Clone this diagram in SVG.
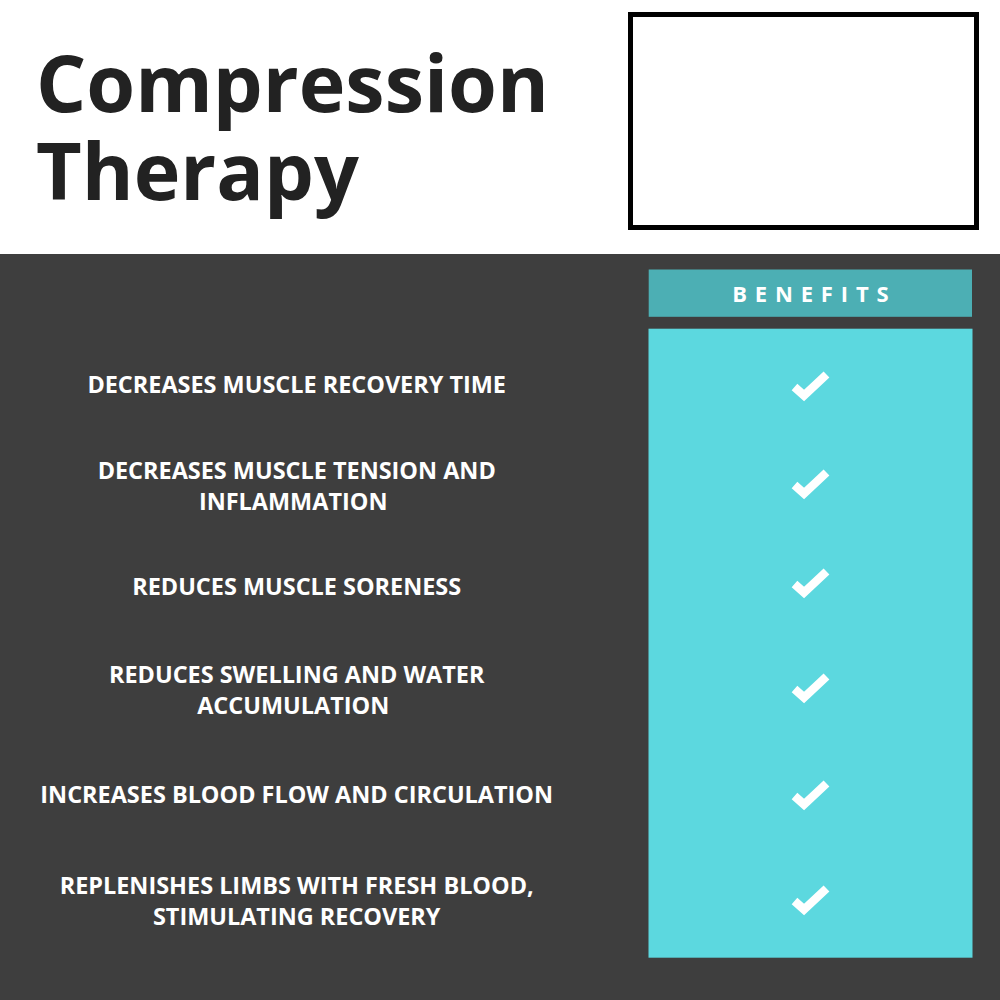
<svg xmlns="http://www.w3.org/2000/svg" width="1000" height="1000" viewBox="0 0 1000 1000">
<style>
text{font-family:"Open Sans","Noto Sans","DejaVu Sans",sans-serif}
.l{font-size:23.45px;font-weight:700;fill:#fff;text-anchor:middle}
.t{font-size:79px;font-weight:700;fill:#222}
.c{fill:none;stroke:#fff;stroke-width:8.500}
</style>
<defs><path id="ck" class="c" d="M-16 1L-6.500 9.500L16-11.500"/></defs>
<rect width="1000" height="1000" fill="#fff"/>
<rect y="254" width="1000" height="746" fill="#3e3e3e"/>
<g id="title"><text class="t" x="36" y="112">Compression</text><text class="t" x="36" y="200">Therapy</text></g>
<g id="box"><rect x="630.500" y="14.500" width="346" height="213" fill="#fff" stroke="#000" stroke-width="5"/></g>
<g id="header"><rect x="648.700" y="269.500" width="323.300" height="47.300" fill="#4cafb4"/><text x="814.300" y="302" text-anchor="middle" font-size="22" font-weight="700" fill="#fff" letter-spacing="7.850">BENEFITS</text></g>
<g id="panel"><rect x="648.500" y="328.700" width="324" height="629" fill="#5cd8df"/></g>
<g id="row1"><text class="l" x="296.700" y="392.500">DECREASES MUSCLE RECOVERY TIME</text><use href="#ck" x="810.500" y="386"/></g>
<g id="row2"><text class="l" x="296.700" y="478.500">DECREASES MUSCLE TENSION AND</text><text class="l" x="293.200" y="509.500">INFLAMMATION</text><use href="#ck" x="810.500" y="484"/></g>
<g id="row3"><text class="l" x="296.700" y="594.500">REDUCES MUSCLE SORENESS</text><use href="#ck" x="810.500" y="583"/></g>
<g id="row4"><text class="l" x="296.700" y="682.500">REDUCES SWELLING AND WATER</text><text class="l" x="293.200" y="713.500">ACCUMULATION</text><use href="#ck" x="810.500" y="688"/></g>
<g id="row5"><text class="l" x="296.700" y="802.500">INCREASES BLOOD FLOW AND CIRCULATION</text><use href="#ck" x="810.500" y="795"/></g>
<g id="row6"><text class="l" x="296.700" y="893.500">REPLENISHES LIMBS WITH FRESH BLOOD,</text><text class="l" x="296.700" y="924.500">STIMULATING RECOVERY</text><use href="#ck" x="810.500" y="900"/></g>
</svg>
